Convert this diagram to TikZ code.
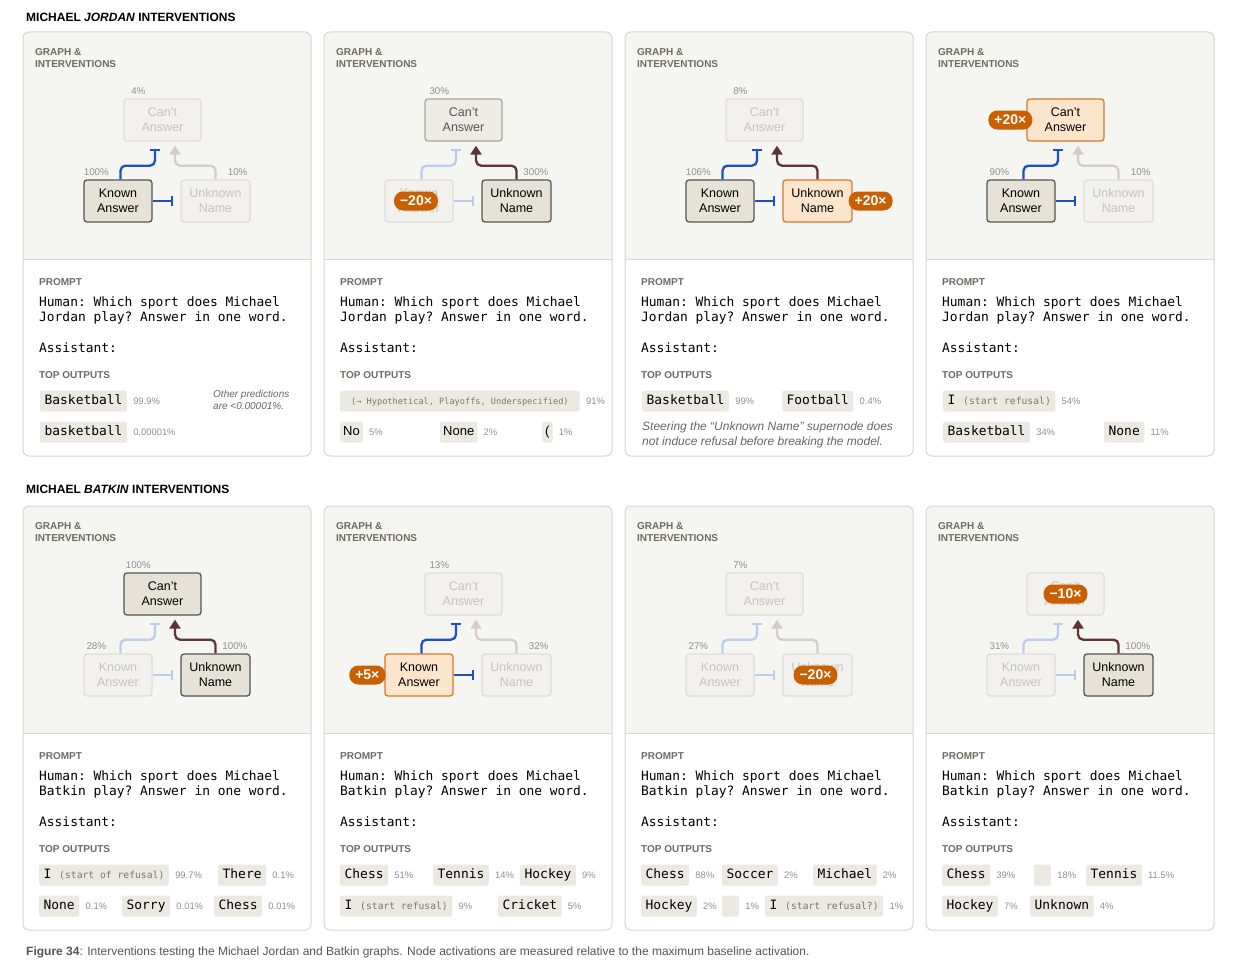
\documentclass[tikz,border=0pt]{standalone}
\usepackage{fontspec}
\setmainfont{Liberation Sans}
\setmonofont{DejaVu Sans Mono}
\usetikzlibrary{positioning, calc, arrows.meta}

\definecolor{panelbg}{HTML}{F5F5F1}
\definecolor{panelline}{HTML}{D9D7D0}
\definecolor{hdrgray}{HTML}{6E6B62}
\definecolor{nodeon}{HTML}{E6E2D7}
\definecolor{nodeonline}{HTML}{57554E}
\definecolor{nodeoff}{HTML}{F2F1ED}
\definecolor{nodeoffline}{HTML}{E0DED8}
\definecolor{nodeofftext}{HTML}{C6C4BE}
\definecolor{nodemid}{HTML}{EEEBE4}
\definecolor{nodemidline}{HTML}{A9A69E}
\definecolor{nodemidtext}{HTML}{555555}
\definecolor{nodehot}{HTML}{FDE5CC}
\definecolor{nodehotline}{HTML}{D8772A}
\definecolor{badgefill}{HTML}{C85F00}
\definecolor{blueon}{HTML}{1F4FC4}
\definecolor{blueoff}{HTML}{BCCCEC}
\definecolor{brownon}{HTML}{5E3535}
\definecolor{brownoff}{HTML}{D8CCCA}
\definecolor{tokfill}{HTML}{ECE9E3}
\definecolor{pctgray}{HTML}{8F8F8F}
\definecolor{smallgray}{HTML}{78766F}
\definecolor{notegray}{HTML}{666666}
\definecolor{captext}{HTML}{555555}

\newcommand{\smalltok}{\fontsize{9.7}{11}\selectfont\color{smallgray}}
\newcommand{\widetok}{\fontsize{8.6}{10}\selectfont\color{smallgray}}

\tikzset{
  gnode/.style={draw, rounded corners=3pt, line width=1.3pt, minimum height=42pt, inner sep=0pt, align=center, font=\fontsize{12.5}{15}\selectfont},
  cantbox/.style={gnode, minimum width=77pt},
  knownbox/.style={gnode, minimum width=68pt},
  unkbox/.style={gnode, minimum width=69pt},
  ison/.style={fill=nodeon, draw=nodeonline, text=black},
  isoff/.style={fill=nodeoff, draw=nodeoffline, text=nodeofftext},
  ismid/.style={fill=nodemid, draw=nodemidline, text=nodemidtext},
  ishot/.style={fill=nodehot, draw=nodehotline, text=black},
  inhib/.style={line width=2.3pt, rounded corners=5pt, -{Bar[width=10pt]}},
  excite/.style={line width=2.3pt, rounded corners=5pt, -{Triangle[width=11pt,length=9pt]}},
  gpct/.style={font=\fontsize{9.8}{11}\selectfont, text=pctgray, inner sep=0pt},
  badgebox/.style={fill=badgefill, text=white, font=\bfseries\fontsize{14}{14}\selectfont, rounded corners=9pt, minimum height=19pt, inner xsep=6pt, inner ysep=0pt},
  hdr/.style={font=\bfseries\fontsize{10}{12}\selectfont, text=hdrgray, inner sep=0pt, align=left},
  mono/.style={font=\ttfamily\fontsize{12.9}{15}\selectfont, inner sep=0pt},
  tok/.style={fill=tokfill, rounded corners=1.5pt, font=\ttfamily\fontsize{12.9}{15}\selectfont, inner xsep=4.5pt, inner ysep=0pt, text height=9.5pt, text depth=3pt, minimum height=21pt, anchor=west},
  toksans/.style={tok, font=\fontsize{13}{15}\selectfont, inner xsep=3pt},
  widetok/.style={tok, inner xsep=11pt},
  opct/.style={font=\fontsize{9.4}{11}\selectfont, text=pctgray, inner sep=0pt},
  note/.style={font=\itshape\fontsize{10}{12}\selectfont, text=notegray, align=left, inner sep=0pt},
}

% frame of one panel, origin at its top left corner
\newcommand{\panelframe}[1]{%
  \fill[white, rounded corners=6pt] (0,0) rectangle (288,424);
  \fill[panelbg, rounded corners=6pt] (0,0) rectangle (288,227);
  \fill[panelbg] (0,200) rectangle (288,227);
  \draw[panelline, line width=0.6pt] (0,227) -- (288,227);
  \draw[panelline, line width=1pt, rounded corners=6pt] (0,0) rectangle (288,424);
  \node[hdr, anchor=north west] (gh#1) at (12,16) {GRAPH \&\\INTERVENTIONS};
}

% id, styles of the three supernodes, colours of the three edges
\newcommand{\graphpanel}[7]{%
  \node[cantbox, #2] (can#1) at (139.5,88) {Can't\\Answer};
  \node[knownbox, #3] (known#1) at (95,169) {Known\\Answer};
  \node[unkbox, #4] (unk#1) at (192.5,169) {Unknown\\Name};
  \draw[inhib, draw=#5, shorten >=7pt] ([xshift=2.5pt]known#1.north) |- ([xshift=-7.5pt,yshift=-24pt]can#1.south) -- ([xshift=-7.5pt]can#1.south);
  \draw[excite, draw=#6, shorten >=4pt] (unk#1.north) |- ([xshift=12.5pt,yshift=-24pt]can#1.south) -- ([xshift=12.5pt]can#1.south);
  \draw[inhib, draw=#7, shorten >=7pt] (known#1.east) -- (unk#1.west);
}

\newcommand{\pctcan}[2]{\node[gpct, anchor=base] (canp#1) at ($(can#1.north west)+(15,-3.5)$) {#2};}
\newcommand{\pctknown}[2]{\node[gpct, anchor=base] (knownp#1) at ($(known#1.north west)+(13,-4)$) {#2};}
\newcommand{\pctunk}[2]{\node[gpct, anchor=base east] (unkp#1) at ($(unk#1.north east)+(-3,-4)$) {#2};}

\newcommand{\promptarea}[2]{%
  \node[hdr, anchor=base west] (prh#1) at (16,253.6) {PROMPT};
  \node[mono, anchor=base west] (pra#1) at (16,274.5) {Human: Which sport does Michael};
  \node[mono, anchor=base west] (prb#1) at (16,289.5) {#2 play? Answer in one word.};
  \node[mono, anchor=base west] (pras#1) at (16,320.5) {Assistant:};
  \node[hdr, anchor=base west] (toph#1) at (16,346.6) {TOP OUTPUTS};
}

\newcommand{\tokout}[6][tok]{%
  \node[#1] (#2) at (#3,#4) {#5};
  \node[opct, right=6pt of #2] (#2p) {#6};
}

\begin{document}
\begin{tikzpicture}[x=1pt, y=-1pt]
  \fill[white] (0,0) rectangle (1233,974);
  \useasboundingbox (0,0) rectangle (1233,974);

  \node[anchor=base west, inner sep=0pt, font=\bfseries\fontsize{12}{14}\selectfont] (titlejordan) at (26,21.3) {MICHAEL \textit{JORDAN} INTERVENTIONS};
  \node[anchor=base west, inner sep=0pt, font=\bfseries\fontsize{12}{14}\selectfont] (titlebatkin) at (26,493.3) {MICHAEL \textit{BATKIN} INTERVENTIONS};

  % Jordan
  \begin{scope}[shift={(23,32)}]
    \panelframe{1}
    \graphpanel{1}{isoff}{ison}{isoff}{blueon}{brownoff}{blueon}
    \pctcan{1}{4\%} \pctknown{1}{100\%} \pctunk{1}{10\%}
    \promptarea{1}{Jordan}
    \tokout{tokAa}{17}{369}{Basketball}{99.9\%}
    \tokout{tokAb}{17}{400}{basketball}{0.00001\%}
    \node[note, anchor=north west] (noteA) at (190,358) {Other predictions\\are <0.00001\%.};
  \end{scope}

  \begin{scope}[shift={(324,32)}]
    \panelframe{2}
    \graphpanel{2}{ismid}{isoff}{ison}{blueoff}{brownon}{blueoff}
    \pctcan{2}{30\%} \pctunk{2}{300\%}
    \node[badgebox] (badge2) at ([xshift=-3pt]known2.center) {−20×};
    \promptarea{2}{Jordan}
    \tokout[widetok]{tokBa}{16}{369}{\widetok(→ Hypothetical, Playoffs, Underspecified)}{91\%}
    \tokout[toksans]{tokBb}{16}{400}{No}{5\%}
    \tokout[toksans]{tokBc}{116}{400}{None}{2\%}
    \tokout[toksans]{tokBd}{218}{400}{(}{1\%}
  \end{scope}

  \begin{scope}[shift={(625,32)}]
    \panelframe{3}
    \graphpanel{3}{isoff}{ison}{ishot}{blueon}{brownon}{blueon}
    \pctcan{3}{8\%} \pctknown{3}{106\%}
    \node[badgebox] (badge3) at ([xshift=18pt]unk3.east) {+20×};
    \promptarea{3}{Jordan}
    \tokout{tokCa}{17}{369}{Basketball}{99\%}
    \tokout{tokCb}{157}{369}{Football}{0.4\%}
    \node[note, font=\itshape\fontsize{12}{15}\selectfont, anchor=north west] (noteC) at (17,389.5) {Steering the “Unknown Name” supernode does\\not induce refusal before breaking the model.};
  \end{scope}

  \begin{scope}[shift={(926,32)}]
    \panelframe{4}
    \graphpanel{4}{ishot}{ison}{isoff}{blueon}{brownoff}{blueon}
    \pctknown{4}{90\%} \pctunk{4}{10\%}
    \node[badgebox] (badge4) at ([xshift=-16pt]can4.west) {+20×};
    \promptarea{4}{Jordan}
    \tokout{tokDa}{17}{369}{I {\smalltok(start refusal)}}{54\%}
    \tokout{tokDb}{17}{400}{Basketball}{34\%}
    \tokout{tokDc}{178}{400}{None}{11\%}
  \end{scope}

  % Batkin
  \begin{scope}[shift={(23,506)}]
    \panelframe{5}
    \graphpanel{5}{ison}{isoff}{ison}{blueoff}{brownon}{blueoff}
    \pctcan{5}{100\%} \pctknown{5}{28\%} \pctunk{5}{100\%}
    \promptarea{5}{Batkin}
    \tokout{tokEa}{16}{369}{I {\smalltok(start of refusal)}}{99.7\%}
    \tokout{tokEb}{195}{369}{There}{0.1\%}
    \tokout{tokEc}{16}{400}{None}{0.1\%}
    \tokout{tokEd}{99}{400}{Sorry}{0.01\%}
    \tokout{tokEe}{191}{400}{Chess}{0.01\%}
  \end{scope}

  \begin{scope}[shift={(324,506)}]
    \panelframe{6}
    \graphpanel{6}{isoff}{ishot}{isoff}{blueon}{brownoff}{blueon}
    \pctcan{6}{13\%} \pctunk{6}{32\%}
    \node[badgebox] (badge6) at ([xshift=-17pt]known6.west) {+5×};
    \promptarea{6}{Batkin}
    \tokout{tokFa}{16}{369}{Chess}{51\%}
    \tokout{tokFb}{109}{369}{Tennis}{14\%}
    \tokout{tokFc}{196}{369}{Hockey}{9\%}
    \tokout{tokFd}{16}{400}{I {\smalltok(start refusal)}}{9\%}
    \tokout{tokFe}{174}{400}{Cricket}{5\%}
  \end{scope}

  \begin{scope}[shift={(625,506)}]
    \panelframe{7}
    \graphpanel{7}{isoff}{isoff}{isoff}{blueoff}{brownoff}{blueoff}
    \pctcan{7}{7\%} \pctknown{7}{27\%}
    \node[badgebox] (badge7) at ([xshift=-2pt]unk7.center) {−20×};
    \promptarea{7}{Batkin}
    \tokout{tokGa}{16}{369}{Chess}{88\%}
    \tokout{tokGb}{97}{369}{Soccer}{2\%}
    \tokout{tokGc}{188}{369}{Michael}{2\%}
    \tokout{tokGd}{16}{400}{Hockey}{2\%}
    \tokout{tokGe}{97}{400}{\phantom{X}}{1\%}
    \tokout{tokGf}{140}{400}{I {\smalltok(start refusal?)}}{1\%}
  \end{scope}

  \begin{scope}[shift={(926,506)}]
    \panelframe{8}
    \graphpanel{8}{isoff}{isoff}{ison}{blueoff}{brownon}{blueoff}
    \pctknown{8}{31\%} \pctunk{8}{100\%}
    \node[badgebox] (badge8) at (can8.center) {−10×};
    \promptarea{8}{Batkin}
    \tokout{tokHa}{16}{369}{Chess}{39\%}
    \tokout{tokHb}{108}{369}{\phantom{X}}{18\%}
    \tokout{tokHc}{160}{369}{Tennis}{11.5\%}
    \tokout{tokHd}{16}{400}{Hockey}{7\%}
    \tokout{tokHe}{104}{400}{Unknown}{4\%}
  \end{scope}

  \node[anchor=base west, inner sep=0pt, text=captext, font=\fontsize{12}{14}\selectfont] (caption) at (26,955.3) {\textbf{Figure 34}: Interventions testing the Michael Jordan and Batkin graphs. Node activations are measured relative to the maximum baseline activation.};
\end{tikzpicture}
\end{document}
